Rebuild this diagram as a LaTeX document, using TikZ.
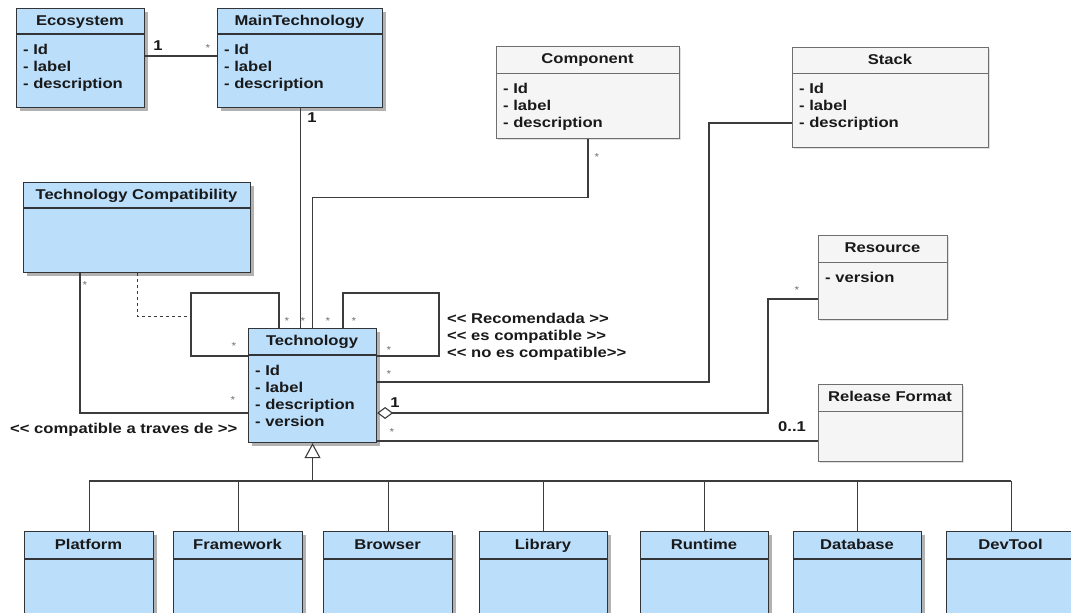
\documentclass[tikz,border=0pt]{standalone}
\usepackage{fontspec}
\newfontfamily\umlfont[FakeStretch=1.17,Ligatures=TeXOff]{Liberation Sans}
\usetikzlibrary{arrows.meta,shadows}

\definecolor{classblue}{RGB}{187,222,251}
\definecolor{classedge}{RGB}{50,52,56}
\definecolor{notefill}{RGB}{245,245,245}
\definecolor{noteedge}{RGB}{110,110,110}
\definecolor{wire}{RGB}{60,60,60}
\definecolor{multgray}{RGB}{110,110,110}

\tikzset{
  bluebox/.style={draw=classedge, fill=classblue, line width=1.1pt, inner sep=0pt,
    drop shadow={shadow xshift=3pt, shadow yshift=-3pt, opacity=0.3, fill=black}},
  graybox/.style={draw=noteedge, fill=notefill, line width=0.9pt, inner sep=0pt,
    drop shadow={shadow xshift=2pt, shadow yshift=-2pt, opacity=0.12, fill=black}},
  bluebox rule/.style={draw=classedge, line width=1.1pt},
  graybox rule/.style={draw=noteedge, line width=0.9pt},
  title/.style={inner sep=0pt, text height=10.5pt, text depth=2.5pt, text=black!90,
    font=\umlfont\bfseries\fontsize{14.2}{17}\selectfont},
  attrs/.style={anchor=north west, align=left, inner sep=0pt, text=black!90,
    font=\umlfont\bfseries\fontsize{14.2}{17}\selectfont},
  stereo/.style={anchor=base west, inner sep=0pt, text=black!90,
    font=\umlfont\bfseries\fontsize{14.2}{17}\selectfont},
  multstar/.style={inner sep=0pt, text=multgray, font=\umlfont\fontsize{10}{10}\selectfont},
  multnum/.style={inner sep=0pt, text=black!90, font=\umlfont\bfseries\fontsize{14.2}{17}\selectfont},
  link/.style={draw=wire, line width=1.1pt},
}

% \umlclass{name}{style}{left}{top}{right}{bottom}{header bottom}{title}{attributes}
\newcommand{\umlclass}[9]{%
  \node[#2, minimum width={#5-#3}, minimum height={#6-#4}, anchor=north west] (#1) at (#3,#4) {};
  \draw[#2 rule] (#3,#7) -- (#5,#7);
  \node[title] (#1-title) at ({(#3+#5)/2},{(#4+#7)/2}) {#8};
  \node[attrs] (#1-attrs) at (#3+7,#7+10) {#9};
}

\begin{document}
\begin{tikzpicture}[x=1pt,y=-1pt]
\fill[white] (0,0) rectangle (1071,613);
\useasboundingbox (0,0) rectangle (1071,613);

% classes
\umlclass{eco}{bluebox}{16}{8}{144}{107}{34}{Ecosystem}{- Id\\- label\\- description}
\umlclass{mt}{bluebox}{217}{8}{382}{107}{34}{MainTechnology}{- Id\\- label\\- description}
\umlclass{comp}{graybox}{496}{46}{679}{138}{73}{Component}{- Id\\- label\\- description}
\umlclass{stack}{graybox}{792}{47}{988}{147}{73}{Stack}{- Id\\- label\\- description}
\umlclass{tc}{bluebox}{23}{182}{250}{272}{208}{Technology Compatibility}{}
\umlclass{tech}{bluebox}{248}{328}{376}{442}{355}{Technology}{- Id\\- label\\- description\\- version}
\umlclass{res}{graybox}{818}{235}{947}{319}{262}{Resource}{- version}
\umlclass{rf}{graybox}{818}{384}{962}{461}{411}{Release Format}{}

% subclasses
\umlclass{plat}{bluebox}{24}{531}{153}{640}{559}{Platform}{}
\umlclass{fw}{bluebox}{173}{531}{302}{640}{559}{Framework}{}
\umlclass{brow}{bluebox}{323}{531}{452}{640}{559}{Browser}{}
\umlclass{lib}{bluebox}{479}{531}{607}{640}{559}{Library}{}
\umlclass{run}{bluebox}{640}{531}{768}{640}{559}{Runtime}{}
\umlclass{db}{bluebox}{793}{531}{921}{640}{559}{Database}{}
\umlclass{dev}{bluebox}{946}{531}{1075}{640}{559}{DevTool}{}

% associations
\draw[link] (eco.east |- 0,56) -- (mt.west |- 0,56);
\draw[link] (mt.south) -- (mt.south |- tech.north);
\draw[link] (comp.south) -- ++(0,59) -| (tech.north);
\draw[link] (stack.west |- 0,123) -| (709,382) -- (tech.east |- 0,382);
\draw[link, {Diamond[fill=white,length=16pt,width=12pt]}-] (tech.east |- 0,413) -- (768,413) |- (res.west |- 0,299);
\draw[link] (tech.east |- 0,441) -- (rf.west |- 0,441);
\draw[link] (tc.south -| 80,0) |- (tech.west |- 0,413);
% self associations
\draw[link] (tech.west |- 0,356) -| (191,293) -| (tech.north -| 279,0);
\draw[link] (tech.north -| 343,0) |- (439,293) |- (tech.east |- 0,356);
\draw[link, dashed, line width=0.9pt] (tc.south) |- (191,316);

% generalization
\coordinate (gbus) at (tech.south |- 0,481);
\draw[link, -{Triangle[fill=white,length=15pt,width=16pt]}] (gbus) -- (tech.south);
\draw[link] (plat.north |- gbus) -- (dev.north |- gbus);
\foreach \sub in {plat,fw,brow,lib,run,db,dev}
  \draw[link] (\sub.north) -- (\sub.north |- gbus);

% multiplicities
\node[multnum] (m-eco) at (158,46) {1};
\node[multstar] (m-mt) at (208,48) {*};
\node[multnum] (m-mtb) at (312,118) {1};
\node[multstar] (m-comp) at (597,157) {*};
\node[multstar] (m-tc) at (85,285) {*};
\node[multstar] (m-l1) at (287,321) {*};
\node[multstar] (m-t1) at (303,321) {*};
\node[multstar] (m-t2) at (328,321) {*};
\node[multstar] (m-r1) at (354,321) {*};
\node[multstar] (m-l2) at (234,346) {*};
\node[multstar] (m-r2) at (389,350) {*};
\node[multstar] (m-stk) at (389,374) {*};
\node[multstar] (m-tcb) at (233,400) {*};
\node[multnum] (m-agg) at (395,403) {1};
\node[multstar] (m-rf) at (392,432) {*};
\node[multstar] (m-res) at (797,290) {*};
\node[multnum] (m-rfn) at (792,427) {0..1};

% stereotypes
\node[stereo] (st1) at (447,323) {<< Recomendada >>};
\node[stereo] (st2) at (447,340) {<< es compatible >>};
\node[stereo] (st3) at (447,357) {<< no es compatible>>};
\node[stereo] (st4) at (10,433) {<< compatible a traves de >>};
\end{tikzpicture}
\end{document}
